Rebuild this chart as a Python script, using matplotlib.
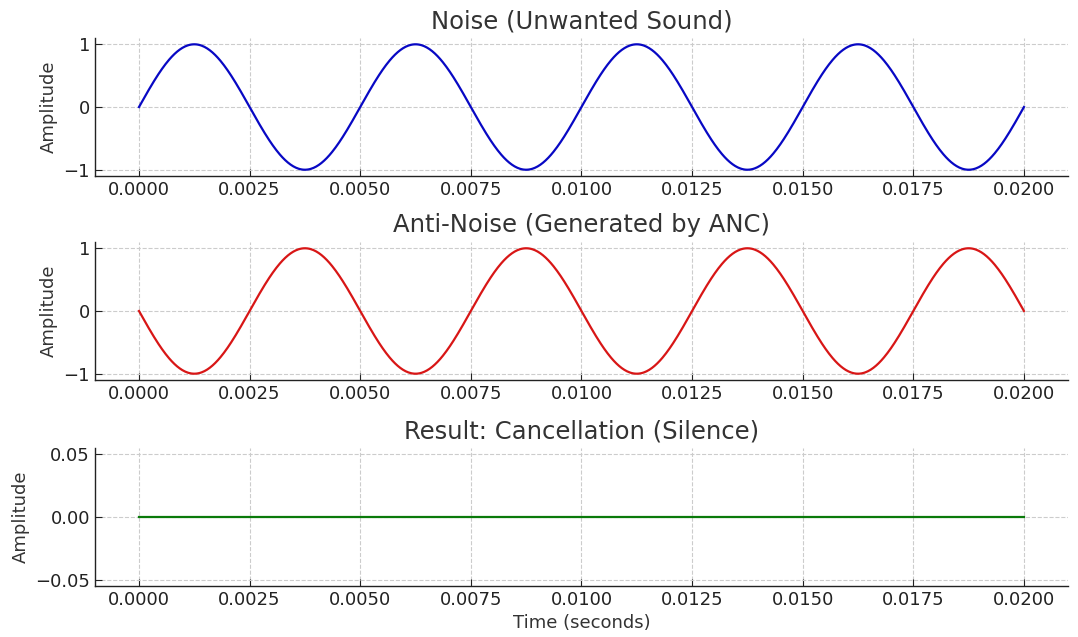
import numpy as np
import matplotlib
matplotlib.use("Agg")
import matplotlib.pyplot as plt

# Signal parameters
duration = 0.02          # seconds
frequency = 200          # Hz (4 cycles in 0.02 s)
amplitude = 1.0
n_samples = 1000

titles = ["Noise (Unwanted Sound)", "Anti-Noise (Generated by ANC)", "Result: Cancellation (Silence)"]
colors = ["#0808c4", "#d81616", "#0a7a0a"]
xticks = [0.0, 0.0025, 0.005, 0.0075, 0.01, 0.0125, 0.015, 0.0175, 0.02]

t = np.linspace(0, duration, n_samples)
noise = amplitude * np.sin(2 * np.pi * frequency * t)
anti_noise = -noise
result = noise + anti_noise
signals = [noise, anti_noise, result]

plt.rcParams['font.family'] = ['DejaVu Sans']
fig = plt.figure(figsize=(10.78, 6.37), dpi=100)

left, width, height = 0.0879, 0.903, 0.2166
bottoms = [0.7237, 0.4035, 0.0801]

text_color = "#333333"
for i, (sig, title, col, b) in enumerate(zip(signals, titles, colors, bottoms)):
    ax = fig.add_axes([left, b, width, height])
    ax.plot(t, sig, color=col, linewidth=1.6)
    ax.set_title(title, fontsize=17.5, color=text_color, pad=7)
    ax.set_ylabel("Amplitude", fontsize=13, color=text_color)
    ax.set_xticks(xticks)
    ax.set_xticklabels([f"{v:.4f}" for v in xticks])
    if i < 2:
        ax.set_yticks([-1, 0, 1])
        ax.set_yticklabels(["\u22121", "0", "1"])
    else:
        ax.set_ylim(-0.055, 0.055)
        ax.set_yticks([-0.05, 0.0, 0.05])
        ax.set_yticklabels(["\u22120.05", "0.00", "0.05"])
    ax.tick_params(direction="in", labelsize=13, colors="#222222", length=5)
    ax.grid(True, linestyle="--", color="#cccccc", linewidth=0.8)
    for s in ["top", "right"]:
        ax.spines[s].set_visible(False)
    for s in ["left", "bottom"]:
        ax.spines[s].set_color("#222222")
        ax.spines[s].set_linewidth(1.0)
    if i == 2:
        ax.set_xlabel("Time (seconds)", fontsize=13, color=text_color)

fig.savefig("out.png", dpi=100)
